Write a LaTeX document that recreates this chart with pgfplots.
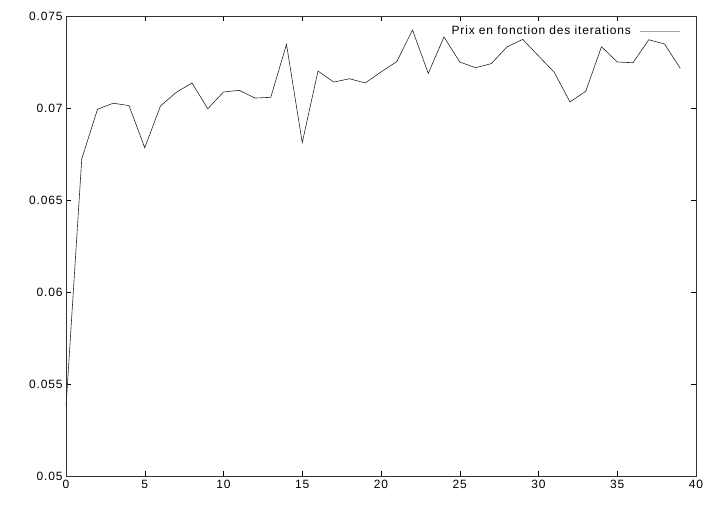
\documentclass[border=0pt]{standalone}
\usepackage{pgfplots}
\pgfplotsset{compat=1.18}
\usepackage{fontspec}
\setmainfont{Liberation Sans}
\newfontfamily\gp[LetterSpace=7]{Liberation Sans}
\begin{document}
\begin{tikzpicture}
\begin{axis}[
  scale only axis,
  width=630pt, height=460pt,
  xmin=0, xmax=40, ymin=0.05, ymax=0.075,
  xtick={0,5,...,40},
  ytick={0.05,0.055,0.06,0.065,0.07,0.075},
  yticklabels={0.05,0.055,0.06,0.065,0.07,0.075},
  scaled ticks=false,
  /pgf/number format/assume math mode=true,
  tick align=inside,
  major tick length=5pt,
  tick style={black, line width=0.5pt},
  axis line style={line width=0.8pt, black!80},
  every tick label/.append style={font=\gp\fontsize{12}{14}\selectfont},
  xticklabel style={yshift=-1pt},
  legend plot pos=right,
  legend cell align=right,
  legend style={draw=none, fill=none, at={(1,1)}, anchor=north east,
    xshift=-12pt, yshift=-6pt, font=\gp\fontsize{12}{14}\selectfont},
  legend image code/.code={\path (0cm,0cm); \draw[gray!70, line width=0.8pt] (0.25cm,0cm) -- (1.66cm,0cm);},
]
\addplot[black!85, line width=0.6pt] coordinates {
(0,0.05375) (1,0.06723) (2,0.06993) (3,0.07026) (4,0.07013) (5,0.06784)
(6,0.07011) (7,0.07085) (8,0.07136) (9,0.06996) (10,0.07087) (11,0.07096)
(12,0.07054) (13,0.07058) (14,0.07346) (15,0.06812) (16,0.07201) (17,0.07141)
(18,0.07159) (19,0.07136) (20,0.07196) (21,0.07252) (22,0.07424) (23,0.07188)
(24,0.07386) (25,0.07250) (26,0.07219) (27,0.07241) (28,0.07332) (29,0.07373)
(30,0.07283) (31,0.07194) (32,0.07033) (33,0.07091) (34,0.07333) (35,0.07250)
(36,0.07246) (37,0.07371) (38,0.07348) (39,0.07216)
};
\addlegendentry{Prix en fonction des iterations}
\end{axis}
\useasboundingbox (-66pt,-28pt) rectangle (654pt,476pt);
\end{tikzpicture}
\end{document}
